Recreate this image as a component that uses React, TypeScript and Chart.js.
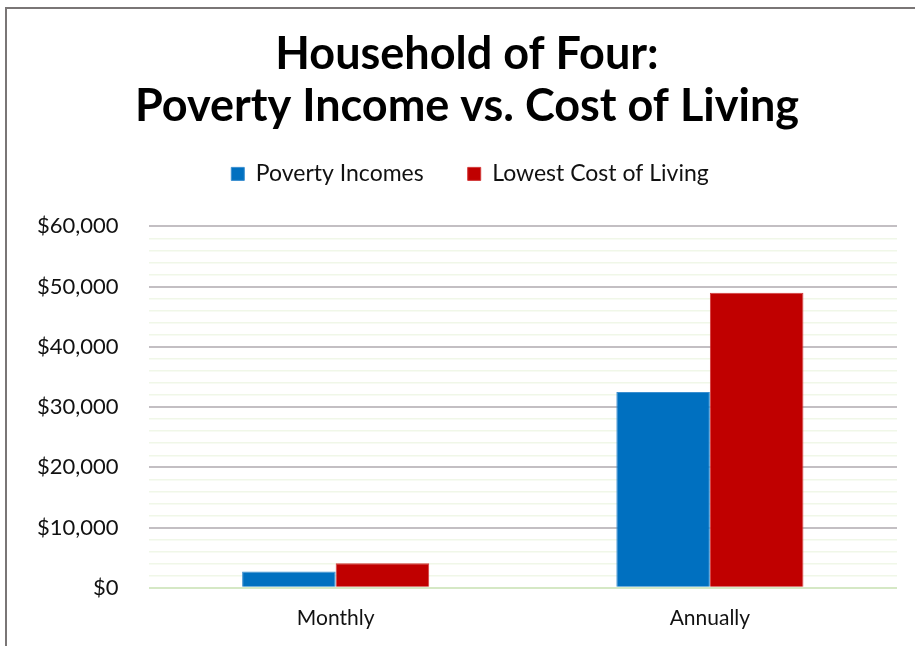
import React, { useEffect, useRef } from "react";
import { Chart, registerables } from "chart.js";

Chart.register(...registerables);

const categories = ["Monthly", "Annually"];
const povertyIncomes = [2700, 32500];
const lowestCostOfLiving = [4083, 49000];
const titleLines = ["Household of Four:", "Poverty Income vs. Cost of Living"];
const seriesNames = ["Poverty Incomes", "Lowest Cost of Living"];
const yMax = 60000;
const yMinorStep = 2000;
const yMajorStep = 10000;

const FONT = "Lato, 'Open Sans', sans-serif";

const layoutTweaks = {
  id: "layoutTweaks",
  afterInit(chart: any) {
    const legend = chart.legend;
    if (!legend) return;
    const orig = legend.fit.bind(legend);
    legend.fit = function () {
      orig();
      this.height += 31;
    };
  },
  beforeDraw(chart: any) {
    // the original frame extends past the right edge, so its header is centred further right
    if (chart.titleBlock) {
      chart.titleBlock.left += 15;
      chart.titleBlock.right += 15;
    }
    if (chart.legend) {
      chart.legend.left += 18;
      chart.legend.right += 18;
    }
  },
};

export default function App() {
  const ref = useRef<HTMLCanvasElement | null>(null);
  useEffect(() => {
    if (!ref.current) return;
    const chart = new Chart(ref.current, {
      type: "bar",
      data: {
        labels: categories,
        datasets: [
          {
            label: seriesNames[0],
            data: povertyIncomes,
            backgroundColor: "#0070C0",
            borderColor: "#3b8fd0",
            borderWidth: 1,
          },
          {
            label: seriesNames[1],
            data: lowestCostOfLiving,
            backgroundColor: "#C00000",
            borderColor: "#d33a3a",
            borderWidth: 1,
          },
        ],
      },
      options: {
        animation: false,
        responsive: false,
        maintainAspectRatio: false,
        layout: { padding: { left: 7, right: 18, top: 0, bottom: 5 } },
        datasets: { bar: { barPercentage: 1, categoryPercentage: 0.5 } },
        plugins: {
          title: {
            display: true,
            text: titleLines,
            color: "#000",
            font: { family: FONT, size: 45, weight: "bold", lineHeight: 1.16 },
            padding: { top: 28, bottom: -14 },
          },
          legend: {
            display: true,
            labels: {
              color: "#111",
              font: { family: FONT, size: 23 },
              boxWidth: 13,
              boxHeight: 13,
              padding: 44,
            },
          },
          tooltip: { enabled: false },
        },
        scales: {
          x: {
            grid: { display: false },
            border: { display: false },
            ticks: {
              color: "#111",
              font: { family: FONT, size: 21 },
              padding: 10,
            },
          },
          y: {
            min: 0,
            max: yMax,
            border: { display: false },
            grid: {
              drawTicks: false,
              lineWidth: (ctx: any) => (ctx.tick && ctx.tick.value % yMajorStep === 0 ? 2 : 1.5),
              color: (ctx: any) => {
                const v = ctx.tick ? ctx.tick.value : 0;
                if (v === 0) return "#d5e8c5";
                if (v % yMajorStep === 0) return "#c3bfc3";
                return "#f0f7e8";
              },
            },
            ticks: {
              stepSize: yMinorStep,
              autoSkip: false,
              color: "#111",
              font: { family: FONT, size: 22 },
              padding: 30,
              callback: (value: any) => {
                const v = Number(value);
                if (v % yMajorStep !== 0) return "";
                return "$" + v.toLocaleString("en-US");
              },
            },
          },
        },
      },
      plugins: [layoutTweaks],
    });
    return () => chart.destroy();
  }, []);

  return (
    <div style={{ position: "fixed", left: 0, top: 0, width: 915, height: 646, background: "#fff" }}>
      <div
        style={{
          position: "absolute",
          left: 5,
          top: 7,
          width: 1000,
          height: 1000,
          borderLeft: "2px solid #7a7676",
          borderTop: "2px solid #7a7676",
        }}
      />
      <canvas ref={ref} width={915} height={646} style={{ position: "absolute", left: 0, top: 0 }} />
    </div>
  );
}
